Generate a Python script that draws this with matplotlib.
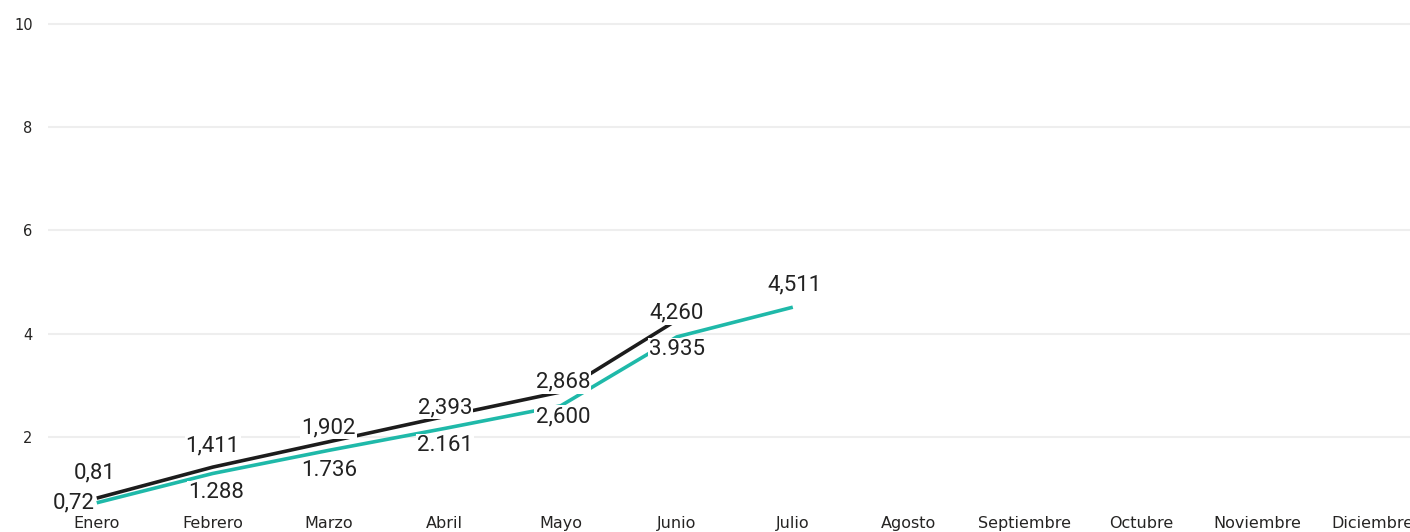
import numpy as np
import matplotlib.pyplot as plt

months = ['Enero', 'Febrero', 'Marzo', 'Abril', 'Mayo', 'Junio', 'Julio',
          'Agosto', 'Septiembre', 'Octubre', 'Noviembre', 'Diciembre']

# black series (ends in Junio), teal series (ends in Julio)
black_vals = [0.81, 1.411, 1.902, 2.393, 2.868, 4.260]
black_txt = ['0,81', '1,411', '1,902', '2,393', '2,868', '4,260']
teal_vals = [0.72, 1.288, 1.736, 2.161, 2.600, 3.935, 4.511]
teal_txt = ['0,72', '1.288', '1.736', '2.161', '2,600', '3.935', '4,511']

# label offsets in pixels (style only)
black_off = [(-2, 25), (0, 21), (0, 14), (0, 9), (2, 10), (0, 7)]
teal_off = [(-2, 0), (3, -19), (0, -20), (0, -17), (2, -11), (0, -13), (2, 22)]

black_col = '#1c1c1c'
teal_col = '#1fb9a9'

fig = plt.figure(figsize=(14.1, 5.32), dpi=100)
ax = fig.add_axes([48 / 1410, 22 / 532, 1 - 48 / 1410, 1 - 22 / 532 - 8.5 / 532])

ind = np.arange(len(months))
ax.plot(ind[:len(black_vals)], black_vals, color=black_col, lw=2.6, zorder=3,
        solid_capstyle='butt')
ax.plot(ind[:len(teal_vals)], teal_vals, color=teal_col, lw=2.6, zorder=2,
        solid_capstyle='butt')

box = dict(boxstyle='square,pad=0.05', fc='white', ec='none')
for i, (v, t) in enumerate(zip(black_vals, black_txt)):
    ax.annotate(t, (i, v), xytext=black_off[i], textcoords='offset pixels',
                ha='center', va='center', fontsize=16, family='Roboto',
                color='#222222', bbox=box, zorder=5)
for i, (v, t) in enumerate(zip(teal_vals, teal_txt)):
    ax.annotate(t, (i, v), xytext=teal_off[i], textcoords='offset pixels',
                ha='right' if i == 0 else 'center', va='center', fontsize=16,
                family='Roboto', color='#222222', bbox=box, zorder=5)

ax.set_xlim(-0.42, 11.32)
ax.set_ylim(0.58, 10.3)
ax.set_yticks([2, 4, 6, 8, 10])
ax.set_xticks(ind)
ax.set_xticklabels(months, fontsize=11.5, color='#252423')
ax.tick_params(axis='y', length=0, pad=11, labelsize=10.5, labelcolor='#252423')
ax.tick_params(axis='x', length=0, pad=4)
ax.yaxis.grid(True, color='#eeeeee', lw=1.5)
ax.set_axisbelow(True)
for s in ax.spines.values():
    s.set_visible(False)

fig.savefig('out.png', dpi=100)
